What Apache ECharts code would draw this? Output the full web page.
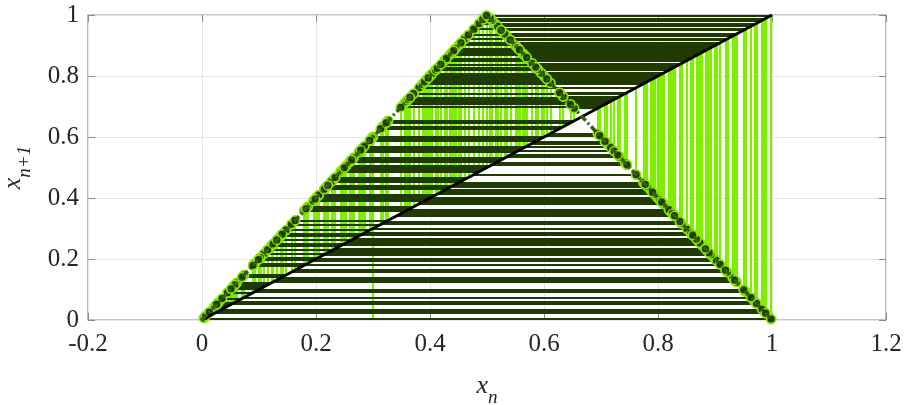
<!DOCTYPE html>
<html>
<head>
<meta charset="utf-8">
<script src="https://cdn.jsdelivr.net/npm/echarts@6/dist/echarts.min.js"></script>
<style>
  html, body { margin: 0; padding: 0; background: #fff; }
  #chart { width: 906px; height: 405px; }
</style>
</head>
<body>
<div id="chart"></div>
<script>
var orbit = [0.3, 0.6, 0.8, 0.4, 0.8, 0.4, 0.8, 0.4, 0.8, 0.4016, 0.8032, 0.3936, 0.7872, 0.4256,
  0.8512, 0.2976, 0.5952, 0.8096, 0.3808, 0.7616, 0.4768, 0.9536, 0.0928, 0.1856, 0.3712,
  0.7424, 0.5152, 0.9696, 0.0608, 0.1216, 0.2432, 0.4864, 0.9728, 0.0544, 0.1088, 0.2176,
  0.4352, 0.8704, 0.2592, 0.5184, 0.9632, 0.0736, 0.1472, 0.2944, 0.5888, 0.8224, 0.3552,
  0.7104, 0.5792, 0.8416, 0.3168, 0.6336, 0.7328, 0.5344, 0.9312, 0.1376, 0.2752, 0.5504,
  0.8992, 0.2016, 0.4032, 0.8064, 0.3872, 0.7744, 0.4512, 0.9024, 0.1952, 0.3904, 0.7808,
  0.4384, 0.8768, 0.2464, 0.4928, 0.9856, 0.0288, 0.0576, 0.1152, 0.2304, 0.4608, 0.9216,
  0.1568, 0.3136, 0.6272, 0.7456, 0.5088, 0.9824, 0.0352, 0.0704, 0.1408, 0.2816, 0.5632,
  0.8736, 0.2528, 0.5056, 0.9888, 0.0224, 0.0448, 0.0896, 0.1792, 0.3584, 0.7168, 0.5664,
  0.8672, 0.2656, 0.5312, 0.9376, 0.1248, 0.2496, 0.4992, 0.9984, 0.0032, 0.0064, 0.0128,
  0.0256, 0.0512, 0.1024, 0.2048, 0.4096, 0.8192, 0.3616, 0.7232, 0.5536, 0.8928, 0.2144,
  0.4288, 0.8576, 0.2848, 0.5696, 0.8608, 0.2784, 0.5568, 0.8864, 0.2272, 0.4544, 0.9088,
  0.1824, 0.3648, 0.7296, 0.5408, 0.9184, 0.1632, 0.3264, 0.6528, 0.6944, 0.6112, 0.7776,
  0.4448, 0.8896, 0.2208, 0.4416, 0.8832, 0.2336, 0.4672, 0.9344, 0.1312, 0.2624, 0.5248,
  0.9504, 0.0992, 0.1984, 0.3968, 0.7936, 0.4128, 0.8256, 0.3488, 0.6976, 0.6048, 0.7904,
  0.4192, 0.8384, 0.3232, 0.6464, 0.7072, 0.5856, 0.8288, 0.3424];
var tentX = [0, 0.5, 1];
var tentY = [0, 1, 0];
var diagX = [0, 1];
var diagY = [0, 1];

var vertical = [], horizontal = [], marks = [];
for (var i = 0; i < orbit.length - 1; i++) {
  var a = orbit[i], b = orbit[i + 1];
  vertical.push({coords: [[a, i === 0 ? 0 : a], [a, b]]});
  horizontal.push({coords: [[a, b], [b, b]]});
  marks.push([a, b]);
}
var tent = tentX.map(function(x, k){ return [x, tentY[k]]; });
var diag = diagX.map(function(x, k){ return [x, diagY[k]]; });

var serif = 'Liberation Serif';
var ink = '#262626', box = '#8a8a8a', gridc = '#e6e6e6';

function fmt(v) { return String(Math.round(v * 10) / 10); }
var nameRich = {
  i: {fontFamily: serif, fontStyle: 'italic', fontSize: 26, color: ink, lineHeight: 34, verticalAlign: 'top'},
  s: {fontFamily: serif, fontStyle: 'italic', fontSize: 19, color: ink, lineHeight: 20, verticalAlign: 'bottom'}
};
var tick = {inside: true, length: 7, lineStyle: {color: box}};

var c = echarts.init(document.getElementById('chart'), null, {renderer: 'canvas'});
c.setOption({
  animation: false,
  grid: {left: 88, right: 20, top: 15, bottom: 85, containLabel: false, outerBoundsMode: 'none',
    show: true, borderColor: box, borderWidth: 1.2},
  xAxis: [{
    type: 'value', min: -0.2, max: 1.2, interval: 0.2,
    name: '{i|x}{s|n}', nameLocation: 'middle', nameGap: 53,
    nameTextStyle: {rich: nameRich},
    axisLine: {show: false, onZero: false},
    axisTick: tick,
    axisLabel: {fontFamily: serif, fontSize: 25, color: ink, margin: 12, formatter: fmt},
    splitLine: {lineStyle: {color: gridc}}
  }, {
    type: 'value', min: -0.2, max: 1.2, interval: 0.2, position: 'top',
    axisLine: {show: false, onZero: false}, axisLabel: {show: false}, splitLine: {show: false},
    axisTick: tick
  }],
  yAxis: [{
    type: 'value', min: 0, max: 1, interval: 0.2,
    name: '{i|x}{s|n+1}', nameLocation: 'middle', nameGap: 54, nameRotate: 90,
    nameTextStyle: {rich: nameRich},
    axisLine: {show: false, onZero: false},
    axisTick: tick,
    axisLabel: {fontFamily: serif, fontSize: 25, color: ink, margin: 9, formatter: fmt},
    splitLine: {lineStyle: {color: gridc}}
  }, {
    type: 'value', min: 0, max: 1, interval: 0.2, position: 'right',
    axisLine: {show: false, onZero: false}, axisLabel: {show: false}, splitLine: {show: false},
    axisTick: tick
  }],
  series: [
    {type: 'lines', coordinateSystem: 'cartesian2d', data: vertical, silent: true,
      lineStyle: {color: '#80ee00', width: 2.2, opacity: 1}},
    {type: 'lines', coordinateSystem: 'cartesian2d', data: horizontal, silent: true,
      lineStyle: {color: '#1f3a02', width: 2.2, opacity: 1}},
    {type: 'line', data: diag, symbol: 'none', silent: true,
      lineStyle: {color: '#000', width: 3}},
    {type: 'line', data: tent, symbol: 'none', silent: true,
      lineStyle: {color: '#3b5a18', width: 3.5, type: [7, 3, 2, 3]}},
    {type: 'scatter', data: marks, symbol: 'circle', symbolSize: 9, silent: true,
      itemStyle: {color: '#1f3a05', borderColor: '#84e600', borderWidth: 1.8, opacity: 1}}
  ]
});
</script>
</body>
</html>
